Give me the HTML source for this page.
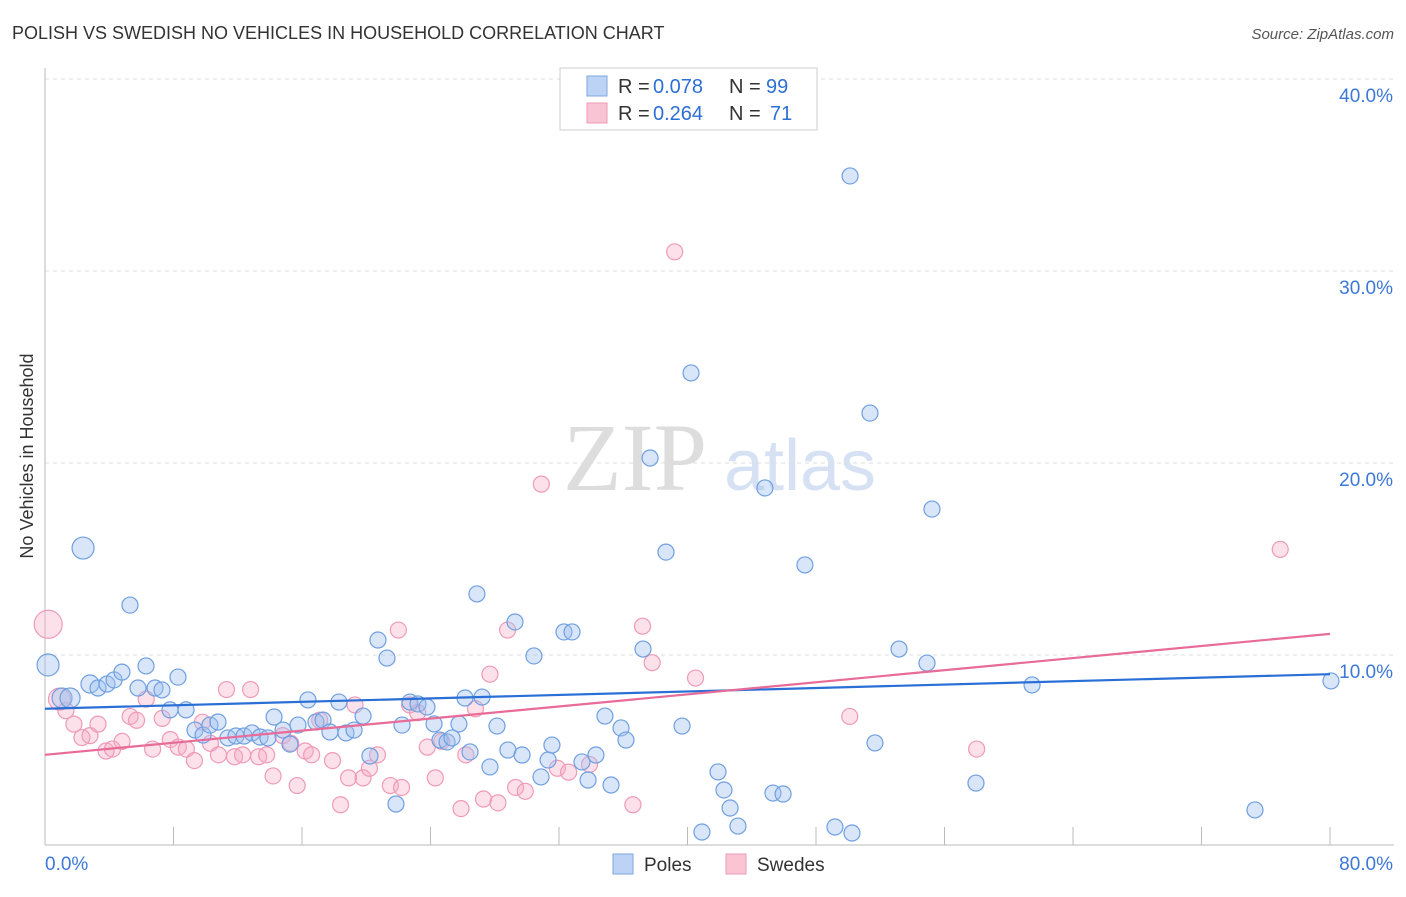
<!DOCTYPE html>
<html><head><meta charset="utf-8">
<style>
body{margin:0;background:#fff;font-family:"Liberation Sans",sans-serif;}
svg text{font-family:"Liberation Sans",sans-serif;}
</style></head>
<body>
<svg id="chart" width="1406" height="892" xmlns="http://www.w3.org/2000/svg">
<text x="12" y="39" font-size="18" fill="#333">POLISH VS SWEDISH NO VEHICLES IN HOUSEHOLD CORRELATION CHART</text>
<text x="1394" y="39" font-size="15" fill="#555" text-anchor="end" font-style="italic">Source: ZipAtlas.com</text>
<text x="33" y="456" font-size="18" fill="#333" text-anchor="middle" transform="rotate(-90 33 456)">No Vehicles in Household</text>
<g>
<text x="635" y="490" font-size="96" fill="#ddd" text-anchor="middle" style="font-family:'Liberation Serif',serif">ZIP</text>
<text x="800" y="490" font-size="72" fill="#d6e2f3" text-anchor="middle">atlas</text>
</g>
<g id="grid"></g>
<g id="axes"></g>
<g id="points"></g>
<g id="lines"></g>
<g>
<rect x="560" y="68" width="257" height="62" fill="#fff" stroke="#ccc"/>
<rect x="587" y="76" width="20" height="20" fill="#bcd3f5" stroke="#7fa7e0"/>
<rect x="587" y="103" width="20" height="20" fill="#f9c5d5" stroke="#ee9ab4"/>
<g font-size="20">
<text x="618" y="93" fill="#333">R =</text><text x="653" y="93" fill="#2d6fd6">0.078</text>
<text x="729" y="93" fill="#333">N =</text><text x="766" y="93" fill="#2d6fd6">99</text>
</g>
<g font-size="20">
<text x="618" y="120" fill="#333">R =</text><text x="653" y="120" fill="#2d6fd6">0.264</text>
<text x="729" y="120" fill="#333">N =</text><text x="770" y="120" fill="#2d6fd6">71</text>
</g>
</g>
<g>
<rect x="613" y="854" width="20" height="20" fill="#bcd3f5" stroke="#7fa7e0"/>
<text x="644" y="871" font-size="19" fill="#333">Poles</text>
<rect x="726" y="854" width="20" height="20" fill="#f9c5d5" stroke="#ee9ab4"/>
<text x="757" y="871" font-size="19" fill="#333">Swedes</text>
</g>
</svg>
<script>
const xTicks=[0,8,16,24,32,40,48,56,64,72,80];
const yTicks=[10,20,30,40];
const polesX=[2.37,5.29,0.19,1.06,1.56,2.80,3.30,3.86,4.30,4.79,6.29,5.79,6.85,7.28,7.78,8.28,8.78,9.34,9.84,10.27,10.77,11.39,11.89,12.39,12.89,13.39,13.88,14.26,14.82,15.25,15.75,16.37,16.87,17.31,17.74,18.30,18.74,19.24,19.80,20.23,20.73,21.29,21.85,22.23,22.72,23.22,23.78,24.22,24.59,25.03,25.34,25.77,26.15,26.46,26.89,27.21,27.70,28.14,28.82,29.26,29.70,30.44,30.88,31.32,31.56,32.31,32.81,33.43,33.81,34.30,35.24,34.86,35.86,36.17,37.23,37.67,38.66,39.66,40.22,40.90,41.90,42.27,42.65,43.14,44.82,45.32,45.95,47.31,49.18,50.12,50.24,51.36,51.67,53.17,54.91,55.22,57.96,61.45,75.33,80.06];
const polesY=[15.57,12.6,9.48,7.76,7.76,8.49,8.28,8.49,8.70,9.11,9.43,8.28,8.28,8.18,7.14,8.85,7.14,6.09,5.83,6.35,6.51,5.68,5.78,5.78,5.94,5.73,5.68,6.77,6.09,5.36,6.35,7.66,6.51,6.61,5.99,7.55,5.94,6.09,6.82,4.74,10.78,9.84,2.24,6.35,7.55,7.45,7.29,6.41,5.57,5.47,5.68,6.41,7.76,4.95,13.18,7.81,4.17,6.30,5.05,11.72,4.79,9.95,3.65,4.53,5.31,11.2,11.2,4.43,3.49,4.79,3.23,6.82,6.2,5.57,10.31,20.26,15.36,6.30,24.69,0.78,3.91,2.97,2.03,1.09,18.7,2.81,2.76,14.69,1.04,34.95,0.73,22.6,5.42,10.31,9.58,17.6,3.33,8.44,1.93,8.65];
const polesSize=[11,8,11,10,10,9,8,8,8,8,8,8,8,8,8,8,8,8,8,8,8,8,8,8,8,8,8,8,8,8,8,8,8,8,8,8,8,8,8,8,8,8,8,8,8,8,8,8,8,8,8,8,8,8,8,8,8,8,8,8,8,8,8,8,8,8,8,8,8,8,8,8,8,8,8,8,8,8,8,8,8,8,8,8,8,8,8,8,8,8,8,8,8,8,8,8,8,8,8,8];
const swedesX=[0.2,0.9,1.3,1.8,2.3,2.8,3.3,3.8,4.2,4.8,5.3,5.7,6.3,6.7,7.3,7.8,8.3,8.8,9.3,9.8,10.3,10.8,11.3,11.8,12.3,12.8,13.3,13.8,14.2,14.8,15.3,15.7,16.2,16.6,17.1,17.9,18.4,18.9,19.3,19.8,20.2,20.7,21.5,22.0,22.2,22.7,23.2,23.8,24.3,24.7,25.9,26.2,26.8,27.3,27.7,28.2,28.8,29.3,29.9,30.9,31.9,32.6,33.9,36.6,37.2,37.8,39.2,40.5,50.1,58.0,76.9];
const swedesY=[11.6,7.7,7.1,6.4,5.7,5.8,6.4,5.0,5.1,5.5,6.8,6.6,7.7,5.1,6.7,5.6,5.2,5.1,4.5,6.5,5.4,4.8,8.2,4.7,4.8,8.2,4.7,4.8,3.7,5.8,5.4,3.2,5.0,4.8,6.6,4.5,2.2,3.6,7.4,3.6,4.1,4.8,3.2,11.3,3.1,7.4,7.0,5.2,3.6,5.5,2.0,4.8,7.2,2.5,9.0,2.3,11.3,3.1,2.9,18.9,4.1,3.9,4.3,2.2,11.5,9.6,31.0,8.8,6.8,5.1,15.5];
const trendPoles=[7.2,9.0];
const trendSwedes=[4.8,11.1];
const X0=45,X1=1330,Y0=847,YPX=19.2;
const sx=v=>X0+(v/80)*(X1-X0);
const sy=v=>Y0-v*YPX;
const NS='http://www.w3.org/2000/svg';
function mk(tag,attrs,parent){const e=document.createElementNS(NS,tag);for(const k in attrs)e.setAttribute(k,attrs[k]);parent.appendChild(e);return e;}
const grid=document.getElementById('grid'),axes=document.getElementById('axes'),pts=document.getElementById('points'),lines=document.getElementById('lines');
yTicks.forEach(t=>{
 const l=mk('line',{x1:45,x2:1394,y1:sy(t),y2:sy(t),stroke:'#ddd','stroke-dasharray':'4,4'},grid);
 
 
 const tx=mk('text',{x:1393,y:sy(t)+23,'font-size':19,fill:'#3d78d8','text-anchor':'end'},grid);
 tx.textContent=t.toFixed(1)+'%';
 
 
});
const xa=mk('line',{x1:45,x2:1394,y1:845,y2:845,stroke:'#bbb'},axes);


const ya=mk('line',{x1:45,x2:45,y1:68,y2:845,stroke:'#bbb'},axes);


xTicks.forEach(t=>{
 const l=mk('line',{x1:sx(t),x2:sx(t),y1:827,y2:845,stroke:'#bbb'},axes);
 
 
});
const xl0=mk('text',{x:45,y:870,'font-size':19,fill:'#3d78d8'},axes);xl0.textContent='0.0%';


const xl1=mk('text',{x:1393,y:870,'font-size':19,fill:'#3d78d8','text-anchor':'end'},axes);xl1.textContent='80.0%';


swedesX.forEach((v,i)=>{
 const c=mk('circle',{cx:sx(v),cy:sy(swedesY[i]),r:i==0?14:(i==1?11:8),fill:'rgba(246,170,195,0.35)',stroke:'#ef9ab6','stroke-width':1.2},pts);
 
 
});
polesX.forEach((v,i)=>{
 const c=mk('circle',{cx:sx(v),cy:sy(polesY[i]),r:polesSize[i]||8,fill:'rgba(160,192,240,0.4)',stroke:'#6f9fe0','stroke-width':1.2},pts);
 
 
});
const tp=mk('line',{x1:sx(0),x2:sx(80),y1:sy(trendPoles[0]),y2:sy(trendPoles[1]),stroke:'#2a6fd6','stroke-width':2.2},lines);


const ts=mk('line',{x1:sx(0),x2:sx(80),y1:sy(trendSwedes[0]),y2:sy(trendSwedes[1]),stroke:'#e86b98','stroke-width':2.2},lines);


</script>
</body></html>
